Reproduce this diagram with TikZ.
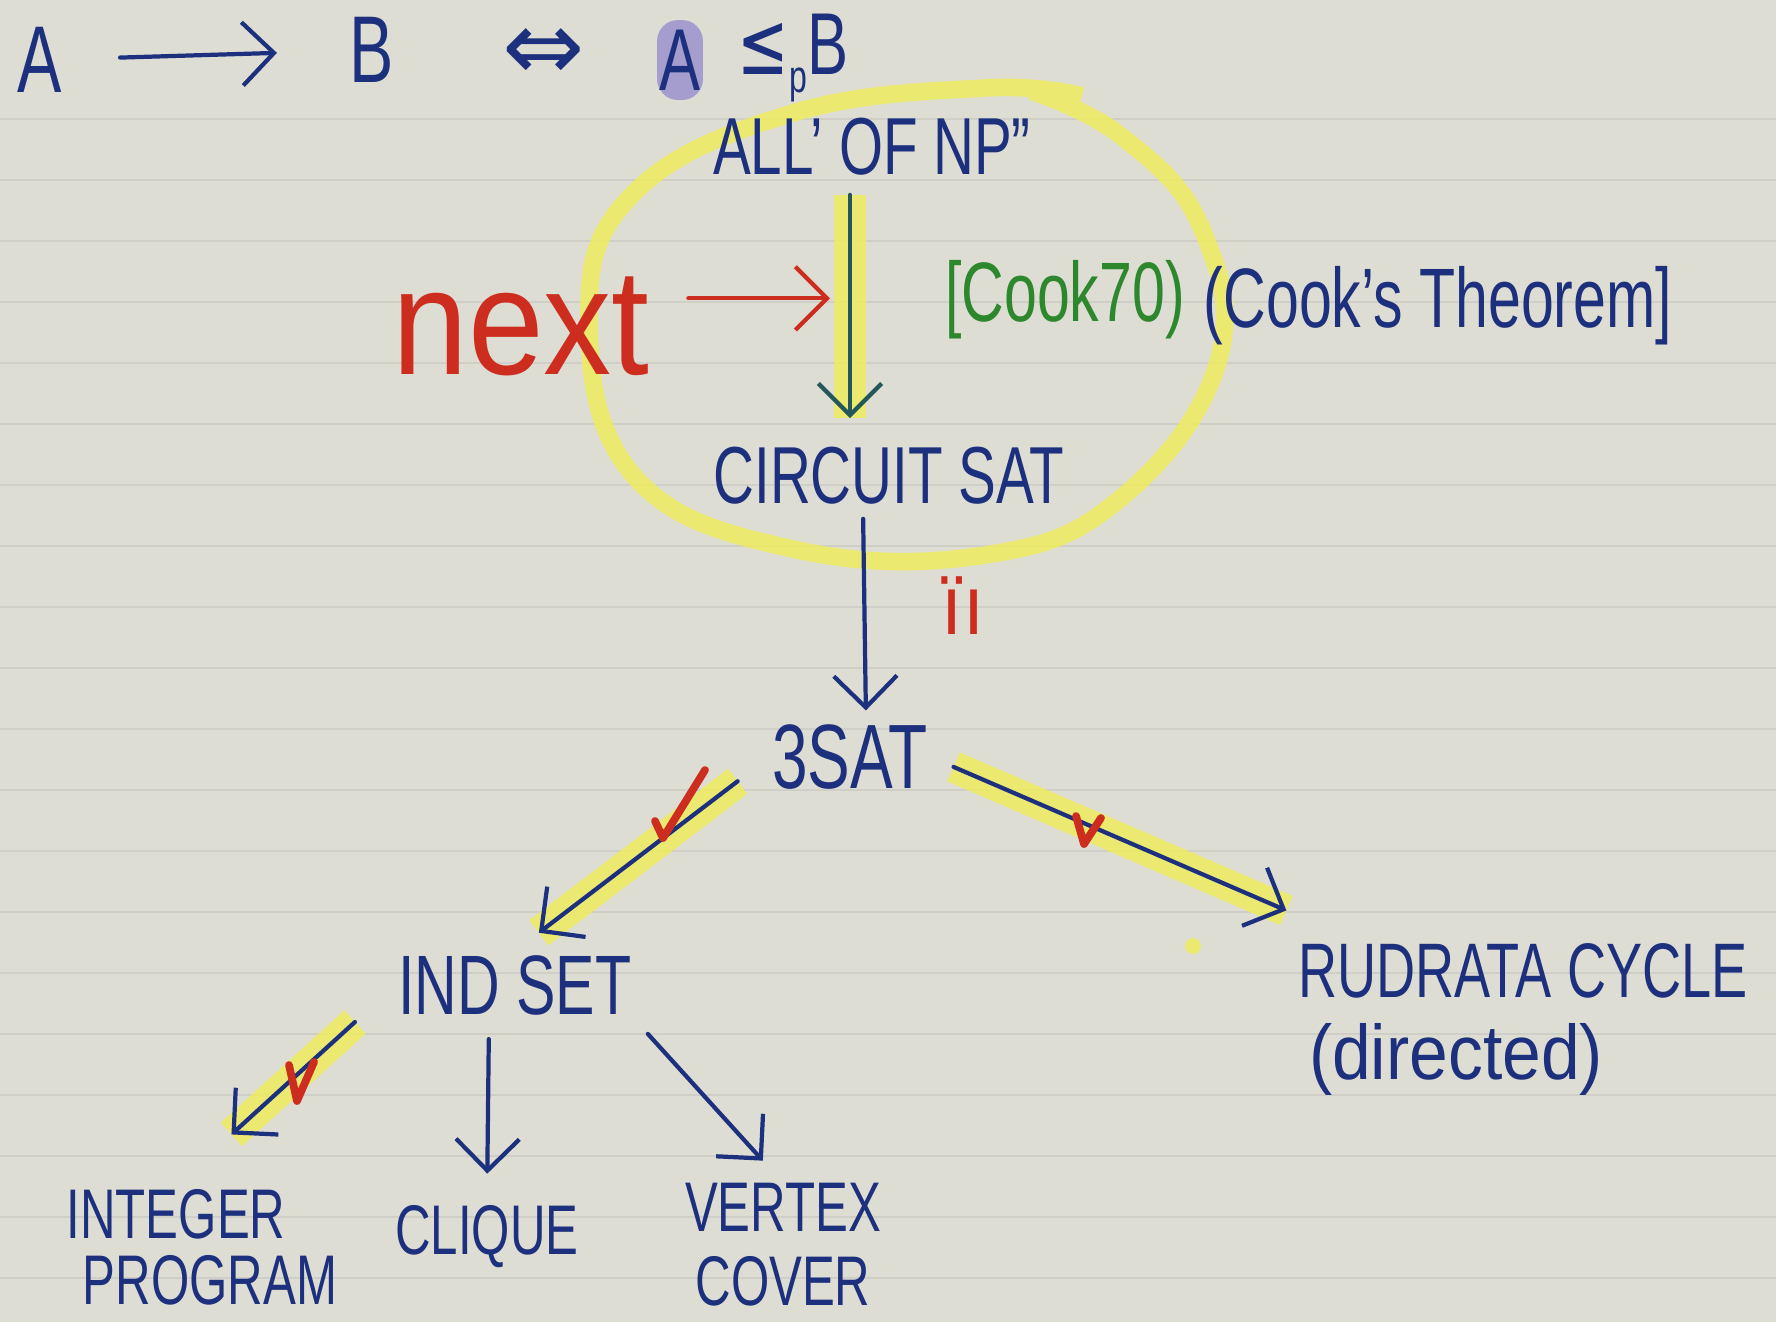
\documentclass[tikz,border=0pt]{standalone}
\usepackage{fontspec}
\setmainfont{Liberation Sans}
\newfontfamily\arrowfont{DejaVu Sans}
\usetikzlibrary{arrows.meta}

\definecolor{paper}{RGB}{222,221,212}
\definecolor{ruling}{RGB}{207,207,199}
\definecolor{inkblue}{RGB}{28,48,125}
\definecolor{inkgreen}{RGB}{45,135,45}
\definecolor{inkred}{RGB}{205,45,30}
\definecolor{marker}{RGB}{238,236,95}
\definecolor{purplemark}{RGB}{130,115,205}

\newcommand{\handsize}[1]{\fontsize{#1}{#1}\selectfont}

\tikzset{
	hand/.style={text=inkblue, inner sep=1pt, xscale=#1},
	hand/.default=0.7,
	pen/.style={draw=inkblue, line width=1.2pt, line cap=round,
		-{Straight Barb[length=9pt, width=18pt, line width=1.2pt]}},
	marked/.style={preaction={draw=marker, line width=9pt, opacity=0.85, -}},
	tick/.style={draw=inkred, line width=2.2pt, line cap=round, line join=round},
}

\begin{document}
\begin{tikzpicture}
	\useasboundingbox (0,0) rectangle (17.76,-13.22);
	\fill[paper] (0,0) rectangle (17.76,-13.22);
	\foreach \y in {1.19,1.80,...,13.2}
		\draw[ruling, line width=0.6pt] (0,-\y) -- (17.76,-\y);
	
	% yellow loop round the Cook part
	\draw[marker, line width=5pt, opacity=0.85] plot[smooth, tension=0.7] coordinates
		{(10.82,-0.96) (9.85,-0.88) (7.93,-1.13) (6.34,-1.93) (5.89,-3.17) (6.34,-4.76)
		 (7.93,-5.49) (9.85,-5.55) (11.21,-4.98) (12.18,-3.62) (12.01,-2.27) (11.21,-1.36) (10.31,-0.91)};
	\fill[marker, opacity=0.85] (11.93,-9.46) circle (0.08);
	
	% top line
	\node[hand, font=\handsize{27}] (a) at (0.40,-0.60) {A};
	\node[hand, font=\handsize{27}] (b) at (3.72,-0.50) {B};
	\node[text=inkblue, font=\arrowfont\handsize{28}] (iff) at (5.44,-0.55) {⇔};
	\node[hand, font=\handsize{25}, fill=purplemark, fill opacity=0.6, text opacity=1,
		rounded corners=6pt, minimum height=0.8cm] (ap) at (6.80,-0.60) {A};
	\node[hand, font=\handsize{25}] (leqb) at (7.93,-0.58)
		{{\arrowfont ≤}\raisebox{-0.4ex}{\handsize{13}p}B};
	\draw[pen, shorten <=0.55cm, shorten >=0.7cm] (a) -- (b);
	
	% reductions
	\node[hand, font=\handsize{23}] (allnp) at (8.72,-1.47) {ALL’ OF NP”};
	\node[hand, font=\handsize{23}] (circuit) at (8.89,-4.76) {CIRCUIT SAT};
	\node[hand, font=\handsize{26}] (threesat) at (8.50,-7.57) {3SAT};
	\node[hand, font=\handsize{24}] (indset) at (5.15,-9.85) {IND SET};
	\node[hand, font=\handsize{22}] (rudrata) at (15.23,-9.71) {RUDRATA CYCLE};
	\node[hand=0.9, font=\handsize{22}] (directed) at (14.56,-10.59) {(directed)};
	\node[hand, font=\handsize{20}] (integer) at (1.76,-12.14) {INTEGER};
	\node[hand, font=\handsize{20}] (program) at (2.10,-12.80) {PROGRAM};
	\node[hand, font=\handsize{20}] (clique) at (4.87,-12.37) {CLIQUE};
	\node[hand, font=\handsize{20}, align=center, inner sep=0pt] (vertex) at (7.83,-12.45)
		{VERTEX\\[1pt]COVER};
	
	\node[hand, text=inkgreen, font=\handsize{24}] (cook) at (10.65,-3.00) {[Cook70)};
	\node[hand, font=\handsize{24}] (theorem) at (14.38,-3.06) {(Cook’s Theorem]};
	\node[hand=0.9, text=inkred, font=\handsize{43}] (next) at (5.21,-3.26) {next};
	\node[hand=0.9, text=inkred, font=\handsize{24}] (ii) at (9.63,-6.06) {ïı};
	
	\draw[pen, marked, draw=inkgreen!45!inkblue, shorten <=0.15cm, shorten >=0.25cm]
		([xshift=-0.22cm]allnp.south) -- coordinate[pos=0.45] (cookmid)
		([xshift=-0.39cm]circuit.north);
	\draw[pen, draw=inkred, shorten <=0.35cm, shorten >=0.2cm] (next.east |- cookmid) -- (cookmid);
	\draw[pen, shorten <=0.1cm, shorten >=0.1cm]
		([xshift=-0.26cm]circuit.south) -- ([xshift=0.16cm]threesat.north);
	\draw[pen, marked, shorten <=0.4cm, shorten >=0.3cm] (threesat.west) -- (indset.north);
	\draw[pen, marked, shorten <=0.25cm, shorten >=0.1cm]
		(threesat.east) -- ([yshift=0.25cm]rudrata.north west);
	\draw[pen, marked, shorten <=0.55cm, shorten >=0.75cm] (indset.west) -- (integer.north);
	\draw[pen, shorten <=0.2cm, shorten >=0.28cm] ([xshift=-0.26cm]indset.south) -- (clique.north);
	\draw[pen, shorten <=0.2cm, shorten >=0.3cm] (indset.south east) -- (vertex.north);
	
	% red ticks
	\draw[tick] (6.55,-8.21) -- (6.63,-8.38) -- (7.05,-7.70);
	\draw[tick] (10.76,-8.16) -- (10.84,-8.44) -- (11.01,-8.18);
	\draw[tick] (2.89,-10.65) -- (2.97,-11.01) -- (3.14,-10.62);
\end{tikzpicture}
\end{document}
